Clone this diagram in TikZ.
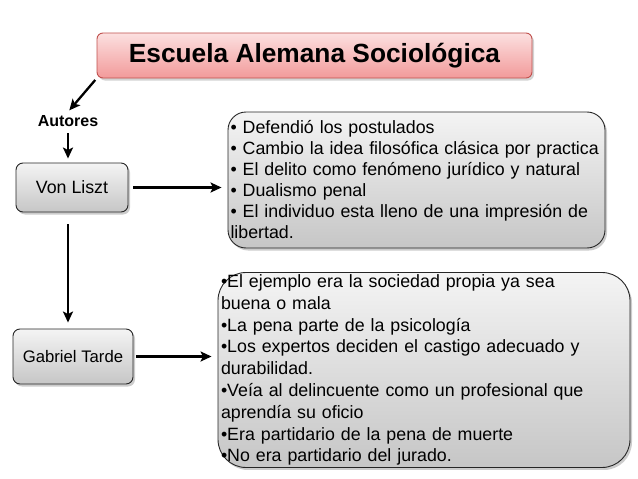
\documentclass[tikz,border=0pt]{standalone}
\usepackage{fontspec}
\setmainfont{Liberation Sans}
\usetikzlibrary{positioning,shadows,arrows.meta}

\definecolor{titleline}{HTML}{C0504D}
\definecolor{titletop}{HTML}{FCE0E0}
\definecolor{titlebot}{HTML}{F29A9A}
\definecolor{boxtop}{HTML}{F4F4F4}
\definecolor{boxbot}{HTML}{C6C6C6}

\tikzset{
  graybox/.style={draw=black!85, line width=0.9pt, top color=boxtop, bottom color=boxbot,
    drop shadow={opacity=0.4, shadow xshift=2pt, shadow yshift=-2.5pt}},
  titlebox/.style={draw=titleline, line width=0.9pt, rounded corners=6pt,
    top color=titletop, bottom color=titlebot,
    drop shadow={opacity=0.35, shadow xshift=2pt, shadow yshift=-2.5pt}},
  author/.style={graybox, rounded corners=7pt, align=center},
  ideas/.style={graybox, align=left, inner xsep=3pt, inner ysep=2pt},
  link/.style={-{Stealth[length=11pt,width=10pt,inset=2.5pt]}, line width=2.3pt}
}

\begin{document}
\begin{tikzpicture}[x=1pt,y=-1pt]
  \useasboundingbox (0,0) rectangle (638,479);

  % Define nodes
  \node[titlebox, minimum width=435pt, minimum height=45pt, font=\fontsize{26.3}{30}\selectfont\bfseries]
      (escuela) at (314.5,55.5) {Escuela Alemana Sociológica};
  \node[font=\fontsize{16}{18}\selectfont\bfseries] (autores) at (68,121) {Autores};
  \node[author, minimum width=112pt, minimum height=49pt, font=\fontsize{17.8}{20}\selectfont]
      (liszt) at (72,187.5) {Von Liszt};
  \node[author, minimum width=120pt, minimum height=55pt, font=\fontsize{16.7}{19}\selectfont]
      (tarde) at (73,356.5) {Gabriel Tarde};
  \node[ideas, rounded corners=18pt, minimum width=377pt, minimum height=136pt,
        text width=372pt, inner xsep=2.5pt, font=\fontsize{17.8}{21}\selectfont]
      (postulados) at (416.5,180) {%
        • Defendió los postulados\\
        • Cambio la idea filosófica clásica por practica\\
        • El delito como fenómeno jurídico y natural\\
        • Dualismo penal\\
        • El individuo esta lleno de una impresión de\\
        libertad.};
  \node[ideas, rounded corners=28pt, minimum width=412pt, minimum height=194pt,
        text width=406pt, inner xsep=2pt, font=\fontsize{17.8}{21.8}\selectfont]
      (sociedad) at (424,370) {%
        •El ejemplo era la sociedad propia ya sea\\
        buena o mala\\
        •La pena parte de la psicología\\
        •Los expertos deciden el castigo adecuado y\\
        durabilidad.\\
        •Veía al delincuente como un profesional que\\
        aprendía su oficio\\
        •Era partidario de la pena de muerte\\
        •No era partidario del jurado.};

  % Connect the nodes
  \draw[link, shorten <=2pt, shorten >=2pt] (escuela.south west) -- (autores.north);
  \draw[link, shorten <=3pt, shorten >=4pt] (autores.south) -- (autores |- liszt.north);
  \draw[link, shorten <=5pt, shorten >=6pt] (liszt.east) -- (liszt.east -| postulados.west);
  \draw[link, shorten <=12pt, shorten >=6pt] (liszt.south -| autores) -- (autores |- tarde.north);
  \draw[link, shorten <=3pt, shorten >=6pt] (tarde.east) -- (tarde.east -| sociedad.west);

\end{tikzpicture}
\end{document}
